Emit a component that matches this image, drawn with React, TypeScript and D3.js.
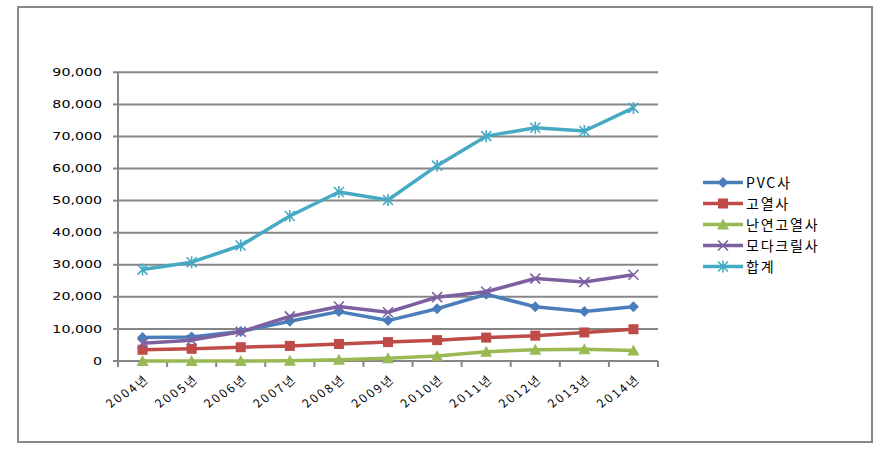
import React, { useEffect, useRef } from 'react';
import * as d3 from 'd3';

const years = ['2004년', '2005년', '2006년', '2007년', '2008년', '2009년', '2010년', '2011년', '2012년', '2013년', '2014년'];
const seriesNames = ['PVC사', '고열사', '난연고열사', '모다크릴사', '합계'];
const pvc = [7300, 7500, 9200, 12400, 15400, 12600, 16300, 20800, 16900, 15400, 16900];
const goyeol = [3500, 3800, 4300, 4700, 5300, 5900, 6500, 7300, 7900, 8900, 9900];
const nanyeon = [0, 0, 0, 100, 400, 850, 1550, 2900, 3500, 3650, 3300];
const modacryl = [5500, 6500, 9100, 13900, 17000, 15200, 19900, 21600, 25700, 24600, 26900];
const total = [28500, 30800, 36000, 45200, 52700, 50200, 60900, 70100, 72700, 71700, 78900];
const yTicks = [0, 10000, 20000, 30000, 40000, 50000, 60000, 70000, 80000, 90000];

const colors = ['#4A7EBB', '#BE4B48', '#98B954', '#7D60A0', '#46AAC5'];
const markers = ['diamond', 'square', 'triangle', 'x', 'star'];

const W = 889;
const H = 452;

function drawMarker(g: any, type: string, x: number, y: number, color: string) {
  if (type === 'diamond') {
    g.append('path').attr('d', `M${x},${y - 5.5}L${x + 5.5},${y}L${x},${y + 5.5}L${x - 5.5},${y}Z`).attr('fill', color);
  } else if (type === 'square') {
    g.append('rect').attr('x', x - 5).attr('y', y - 5).attr('width', 10).attr('height', 10).attr('fill', color);
  } else if (type === 'triangle') {
    g.append('path').attr('d', `M${x},${y - 6}L${x + 6},${y + 5}L${x - 6},${y + 5}Z`).attr('fill', color);
  } else if (type === 'x') {
    g.append('path').attr('d', `M${x - 5},${y - 5}L${x + 5},${y + 5}M${x - 5},${y + 5}L${x + 5},${y - 5}`)
      .attr('stroke', color).attr('stroke-width', 1.6);
  } else {
    g.append('path').attr('d', `M${x - 5},${y - 5}L${x + 5},${y + 5}M${x - 5},${y + 5}L${x + 5},${y - 5}M${x},${y - 6}L${x},${y + 6}`)
      .attr('stroke', color).attr('stroke-width', 1.6);
  }
}

const App = () => {
  const ref = useRef<SVGSVGElement>(null);

  useEffect(() => {
    const svg = d3.select(ref.current);
    svg.selectAll('*').remove();
    const data = [pvc, goyeol, nanyeon, modacryl, total];

    svg.append('rect').attr('width', W).attr('height', H).attr('fill', '#fff');
    svg.append('rect')
      .attr('x', 18).attr('y', 7).attr('width', 854).attr('height', 435)
      .attr('fill', 'none').attr('stroke', '#898989').attr('stroke-width', 2);

    const left = 118, right = 658, top = 72.3, bottom = 361;
    const x = d3.scaleBand().domain(years).range([left, right]);
    const y = d3.scaleLinear().domain([0, 90000]).range([bottom, top]);
    const cx = (d: string) => (x(d) as number) + x.bandwidth() / 2;

    const fmt = d3.format(',');

    // gridlines
    svg.append('g').selectAll('line').data(yTicks.slice(1)).join('line')
      .attr('x1', left).attr('x2', right)
      .attr('y1', (d) => y(d)).attr('y2', (d) => y(d))
      .attr('stroke', '#868686').attr('stroke-width', 2);

    // y axis
    svg.append('line').attr('x1', left).attr('x2', left).attr('y1', top).attr('y2', bottom)
      .attr('stroke', '#868686').attr('stroke-width', 2);
    svg.append('g').selectAll('line').data(yTicks).join('line')
      .attr('x1', left - 5).attr('x2', left)
      .attr('y1', (d) => y(d)).attr('y2', (d) => y(d))
      .attr('stroke', '#868686').attr('stroke-width', 2);
    svg.append('g').selectAll('text').data(yTicks).join('text')
      .attr('transform', (d) => `translate(102,${y(d)}) scale(1.42,1)`)
      .attr('dy', '0.36em')
      .attr('text-anchor', 'end')
      .attr('font-family', 'DejaVu Sans, sans-serif').attr('font-size', 10)
      .attr('fill', '#000')
      .text((d) => fmt(d));

    // x axis
    svg.append('line').attr('x1', left).attr('x2', right).attr('y1', bottom).attr('y2', bottom)
      .attr('stroke', '#868686').attr('stroke-width', 2);
    const bounds = years.map((d) => x(d) as number).concat([right]);
    svg.append('g').selectAll('line').data(bounds).join('line')
      .attr('x1', (d) => d).attr('x2', (d) => d)
      .attr('y1', bottom).attr('y2', bottom + 6)
      .attr('stroke', '#868686').attr('stroke-width', 2);

    // category labels: each glyph turned 45°, glyphs laid along a shallower slope
    const xl = svg.append('g');
    years.forEach((d) => {
      const chars = Array.from(d);
      const n = chars.length;
      const endX = cx(d) - 2;
      const endY = 389;
      const xs = chars.map((_, i) => endX - (n - 1 - i) * 7.4);
      const ys = chars.map((_, i) => endY + (n - 1 - i) * 4.9);
      xl.append('text')
        .attr('x', xs.join(' ')).attr('y', ys.join(' '))
        .attr('rotate', chars.map(() => -45).join(' '))
        .attr('font-family', '"Noto Sans CJK KR", sans-serif').attr('font-size', 12)
        .attr('fill', '#000')
        .text(d);
    });

    // lines
    const line = d3.line<number>().x((_, i) => cx(years[i])).y((d) => y(d));
    data.forEach((vals, si) => {
      const g = svg.append('g');
      g.append('path').datum(vals).attr('d', line)
        .attr('fill', 'none').attr('stroke', colors[si]).attr('stroke-width', 3.5)
        .attr('stroke-linejoin', 'round');
      vals.forEach((v, i) => drawMarker(g, markers[si], cx(years[i]), y(v), colors[si]));
    });

    // legend
    const lg = svg.append('g');
    seriesNames.forEach((name, i) => {
      const ly = 182.5 + i * 21;
      lg.append('line').attr('x1', 703).attr('x2', 743).attr('y1', ly).attr('y2', ly)
        .attr('stroke', colors[i]).attr('stroke-width', 3.5);
      drawMarker(lg, markers[i], 723, ly, colors[i]);
      lg.append('text').attr('x', 746).attr('y', ly).attr('dy', '0.36em')
        .attr('font-family', '"Noto Sans CJK KR", sans-serif').attr('font-size', 14)
        .attr('letter-spacing', 1.8)
        .attr('fill', '#000').text(name);
    });
  }, []);

  return (
    <svg ref={ref} width={W} height={H} style={{ position: 'absolute', left: 0, top: 0 }} />
  );
};

export default App;
